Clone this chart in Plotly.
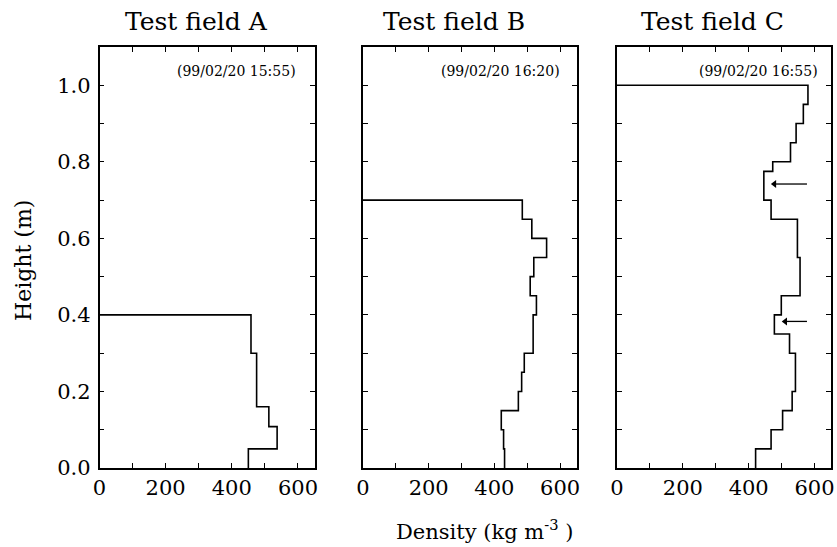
import plotly.graph_objects as go

# ---- data ----
panel_titles = ["Test field A", "Test field B", "Test field C"]
panel_times = ["(99/02/20 15:55)", "(99/02/20 16:20)", "(99/02/20 16:55)"]

# layer boundaries (m) and densities (kg m^-3), bottom to top
edges_a = [0.0, 0.05, 0.108, 0.16, 0.30, 0.40]
dens_a = [450, 537, 512, 475, 458]

edges_b = [0.0, 0.05, 0.10, 0.15, 0.20, 0.25, 0.30, 0.40, 0.45, 0.50, 0.55, 0.60, 0.65, 0.70]
dens_b = [431, 428, 421, 473, 483, 491, 518, 528, 509, 520, 559, 514, 485]

edges_c = [0.0, 0.05, 0.10, 0.15, 0.20, 0.30, 0.35, 0.40, 0.45, 0.55, 0.65, 0.70,
           0.775, 0.80, 0.85, 0.90, 0.95, 1.00]
dens_c = [421, 468, 503, 532, 542, 524, 478, 499, 556, 548, 468, 446, 473, 527, 544, 566, 580]

# arrows in panel C: (height, tail density, head density)
arrow_heights = [0.742, 0.383]
arrow_tails = [577, 577]
arrow_heads = [473, 506]

x_tickvals = [0, 200, 400, 600]
x_ticktext = ["0", "200", "400", "600"]
y_tickvals = [0.0, 0.2, 0.4, 0.6, 0.8, 1.0]
y_ticktext = ["0.0", "0.2", "0.4", "0.6", "0.8", "1.0"]

FONT = "DejaVu Serif"
W, H = 837, 547


def staircase(edges, dens):
    xs = [0]
    ys = [edges[-1]]
    for i in range(len(dens) - 1, -1, -1):
        xs += [dens[i], dens[i]]
        ys += [edges[i + 1], edges[i]]
    return xs, ys


fig = go.Figure()
panels = [(edges_a, dens_a), (edges_b, dens_b), (edges_c, dens_c)]
x_px = [(99.5, 314.5), (363, 576.5), (617, 831)]
y_px = (47, 468)
for i, (e, d) in enumerate(panels):
    xs, ys = staircase(e, d)
    sfx = "" if i == 0 else str(i + 1)
    fig.add_trace(go.Scatter(x=xs, y=ys, mode="lines",
                             line=dict(color="black", width=1.6),
                             xaxis="x" + sfx, yaxis="y" + sfx,
                             showlegend=False, hoverinfo="skip"))

# arrows in panel C: shaft + triangular head
for h, t, hd in zip(arrow_heights, arrow_tails, arrow_heads):
    fig.add_trace(go.Scatter(x=[t, hd + 8], y=[h, h], mode="lines",
                             line=dict(color="black", width=1.3),
                             xaxis="x3", yaxis="y3", showlegend=False, hoverinfo="skip"))
    fig.add_trace(go.Scatter(x=[hd + 5], y=[h], mode="markers",
                             marker=dict(symbol="triangle-left", size=7, color="black"),
                             xaxis="x3", yaxis="y3", showlegend=False, hoverinfo="skip"))

ydom = [1 - y_px[1] / H, 1 - y_px[0] / H]
tick_style = dict(ticks="inside", ticklen=5, tickwidth=1.2, tickcolor="black")
axis_common = dict(showline=True, linecolor="black", linewidth=1.5, mirror="ticks",
                   showgrid=False, zeroline=False, automargin=False,
                   tickfont=dict(family=FONT, size=21, color="black"), **tick_style)
layout = dict(width=W, height=H, margin=dict(l=0, r=0, t=0, b=0),
              plot_bgcolor="white", paper_bgcolor="white", showlegend=False)
for i in range(3):
    sfx = "" if i == 0 else str(i + 1)
    layout["xaxis" + sfx] = dict(axis_common, domain=[x_px[i][0] / W, x_px[i][1] / W],
                                 range=[0, 650], tickmode="array",
                                 tickvals=x_tickvals, ticktext=x_ticktext,
                                 minor=dict(dtick=100, tick0=0, showgrid=False, **tick_style),
                                 anchor="y" + sfx)
    ya = dict(axis_common, domain=ydom, range=[0, 1.1],
              tickmode="array", tickvals=y_tickvals,
              minor=dict(dtick=0.1, tick0=0, showgrid=False, **tick_style),
              anchor="x" + sfx)
    if i == 0:
        ya.update(ticktext=y_ticktext, ticklabelstandoff=3)
    else:
        ya.update(showticklabels=False)
    layout["yaxis" + sfx] = ya
fig.update_layout(**layout)

ann = []
title_cx = [196, 454, 712]
time_rx = [298, 562, 820]
for i in range(3):
    ann.append(dict(text=panel_titles[i], x=title_cx[i] / W, y=1 - 21 / H,
                    xref="paper", yref="paper", showarrow=False,
                    xanchor="center", yanchor="middle",
                    font=dict(family=FONT, size=25, color="black")))
    ann.append(dict(text=panel_times[i], x=time_rx[i] / W, y=1 - 71 / H,
                    xref="paper", yref="paper", showarrow=False,
                    xanchor="right", yanchor="middle",
                    font=dict(family=FONT, size=14, color="black")))
ann.append(dict(text="Height (m)", x=23 / W, y=1 - 261 / H, xref="paper", yref="paper",
                showarrow=False, textangle=-90, xanchor="center", yanchor="middle",
                font=dict(family=FONT, size=22, color="black")))
ann.append(dict(text="Density (kg m<sup>-3</sup> )", x=484 / W, y=1 - 530 / H,
                xref="paper", yref="paper", showarrow=False,
                xanchor="center", yanchor="middle",
                font=dict(family=FONT, size=21, color="black")))
fig.update_layout(annotations=ann)

fig.write_html("out.html")
